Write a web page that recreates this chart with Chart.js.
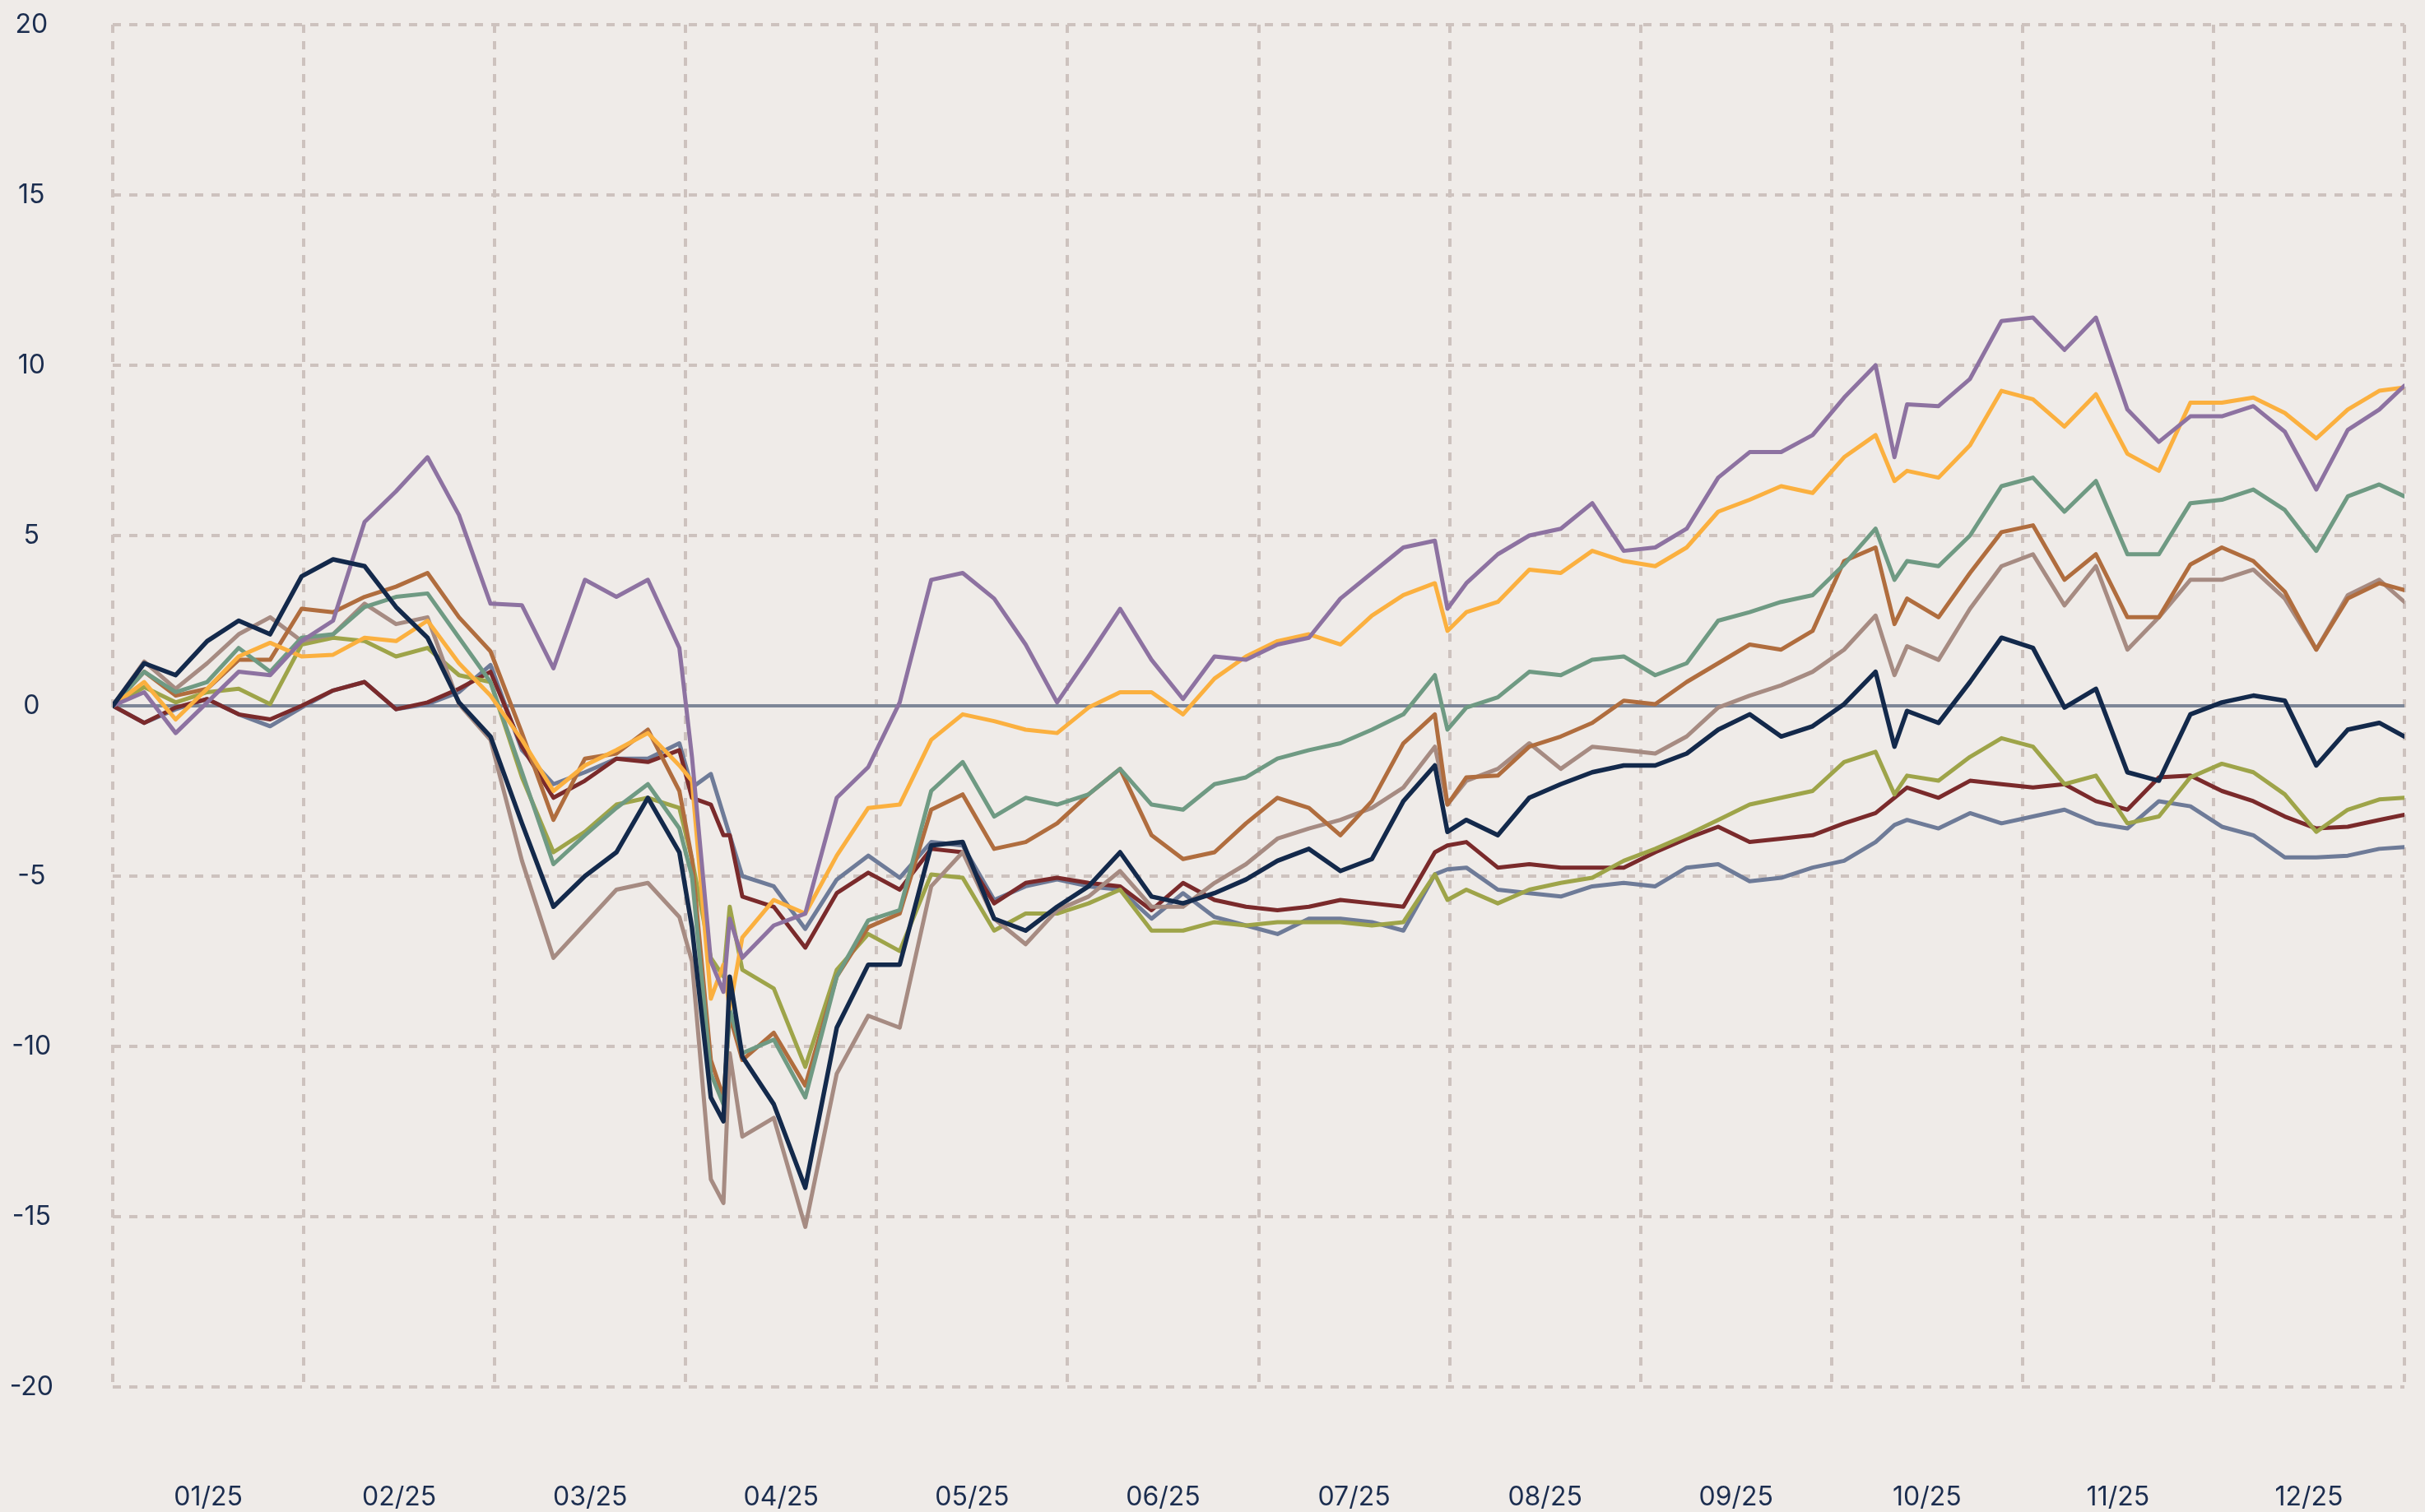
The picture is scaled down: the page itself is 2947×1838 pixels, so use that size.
<!DOCTYPE html>
<html>
<head>
<meta charset="utf-8">
<script src="https://cdn.jsdelivr.net/npm/chart.js@4.4.1/dist/chart.umd.min.js"></script>
<style>
  html, body { margin: 0; padding: 0; background: #efebe8; }
  #wrap { width: 2947px; height: 1838px; }
</style>
</head>
<body>
<div id="wrap"><canvas id="c" width="2947" height="1838"></canvas></div>
<script>
// ---- data (day index in 2025) ----
const days = [0,5,10,15,20,25,30,35,40,45,50,55,60,65,70,75,80,85,90,92,95,97,98,100,105,110,115,120,125,130,135,140,145,150,155,160,165,170,175,180,185,190,195,200,205,210,212,215,220,225,230,235,240,245,250,255,260,265,270,275,280,283,285,290,295,300,305,310,315,320,325,330,335,340,345,350,355,360,364];
const monthLabels = ['01/25','02/25','03/25','04/25','05/25','06/25','07/25','08/25','09/25','10/25','11/25','12/25'];

const navy   = [0,1.25,0.9,1.9,2.5,2.1,3.8,4.3,4.1,2.9,2.0,0.1,-0.9,-3.45,-5.9,-5.0,-4.3,-2.7,-4.3,-6.5,-11.5,-12.2,-7.95,-10.3,-11.7,-14.15,-9.45,-7.6,-7.6,-4.1,-4.0,-6.25,-6.6,-5.9,-5.3,-4.3,-5.6,-5.8,-5.5,-5.1,-4.55,-4.2,-4.85,-4.5,-2.8,-1.75,-3.7,-3.35,-3.8,-2.7,-2.3,-1.95,-1.75,-1.75,-1.4,-0.7,-0.25,-0.9,-0.6,0.05,1.0,-1.2,-0.15,-0.5,0.7,2.0,1.7,-0.05,0.5,-1.95,-2.2,-0.25,0.1,0.3,0.15,-1.75,-0.7,-0.5,-0.9];
const purple = [0,0.4,-0.8,0.1,1.0,0.9,1.9,2.5,5.4,6.3,7.3,5.6,3.0,2.95,1.1,3.7,3.2,3.7,1.7,-1.5,-7.5,-8.4,-6.25,-7.4,-6.45,-6.1,-2.7,-1.8,0.1,3.7,3.9,3.15,1.8,0.1,1.45,2.85,1.35,0.2,1.45,1.35,1.8,2.0,3.15,3.9,4.65,4.85,2.85,3.6,4.45,5.0,5.2,5.95,4.55,4.65,5.2,6.7,7.45,7.45,7.95,9.05,10.0,7.3,8.85,8.8,9.6,11.3,11.4,10.45,11.4,8.7,7.75,8.5,8.5,8.8,8.05,6.35,8.1,8.7,9.4];
const orange = [0,0.7,-0.4,0.5,1.45,1.85,1.45,1.5,2.0,1.9,2.5,1.25,0.3,-1.0,-2.5,-1.75,-1.3,-0.8,-1.75,-2.2,-8.6,-7.6,-8.9,-6.8,-5.7,-6.1,-4.4,-3.0,-2.9,-1.0,-0.25,-0.45,-0.7,-0.8,-0.05,0.4,0.4,-0.25,0.8,1.45,1.9,2.1,1.8,2.65,3.25,3.6,2.2,2.75,3.05,4.0,3.9,4.55,4.25,4.1,4.65,5.7,6.05,6.45,6.25,7.3,7.95,6.6,6.9,6.7,7.65,9.25,9.0,8.2,9.15,7.4,6.9,8.9,8.9,9.05,8.6,7.85,8.7,9.25,9.35];
const green  = [0,1.0,0.4,0.7,1.7,1.0,2.0,2.1,2.9,3.2,3.3,2.0,0.7,-1.95,-4.65,-3.8,-3.0,-2.3,-3.6,-5.0,-10.8,-11.7,-8.9,-10.2,-9.8,-11.5,-7.95,-6.3,-6.0,-2.5,-1.65,-3.25,-2.7,-2.9,-2.6,-1.85,-2.9,-3.05,-2.3,-2.1,-1.55,-1.3,-1.1,-0.7,-0.25,0.9,-0.7,-0.05,0.25,1.0,0.9,1.35,1.45,0.9,1.25,2.5,2.75,3.05,3.25,4.15,5.2,3.7,4.25,4.1,5.0,6.45,6.7,5.7,6.6,4.45,4.45,5.95,6.05,6.35,5.75,4.55,6.15,6.5,6.15];
const copper = [0,1.0,0.3,0.5,1.35,1.35,2.85,2.75,3.2,3.5,3.9,2.6,1.6,-0.8,-3.35,-1.55,-1.4,-0.7,-2.5,-4.5,-10.4,-11.5,-9.1,-10.4,-9.6,-11.15,-7.95,-6.5,-6.1,-3.05,-2.6,-4.2,-4.0,-3.45,-2.6,-1.85,-3.8,-4.5,-4.3,-3.45,-2.7,-3.0,-3.8,-2.8,-1.1,-0.25,-2.9,-2.1,-2.05,-1.2,-0.9,-0.5,0.15,0.05,0.7,1.25,1.8,1.65,2.2,4.25,4.65,2.4,3.15,2.6,3.9,5.1,5.3,3.7,4.45,2.6,2.6,4.15,4.65,4.25,3.35,1.65,3.15,3.6,3.4];
const tan    = [0,1.3,0.5,1.25,2.1,2.6,1.9,2.1,3.0,2.4,2.6,0.05,-1.0,-4.55,-7.4,-6.4,-5.4,-5.2,-6.2,-7.5,-13.9,-14.6,-10.2,-12.65,-12.1,-15.3,-10.8,-9.1,-9.45,-5.3,-4.3,-6.25,-7.0,-6.0,-5.6,-4.85,-5.9,-5.9,-5.2,-4.65,-3.9,-3.6,-3.35,-3.0,-2.4,-1.2,-2.9,-2.2,-1.85,-1.1,-1.85,-1.2,-1.3,-1.4,-0.9,-0.05,0.3,0.6,1.0,1.65,2.65,0.9,1.75,1.35,2.85,4.1,4.45,2.95,4.1,1.65,2.6,3.7,3.7,4.0,3.15,1.65,3.25,3.7,3.05];
const olive  = [0,0.55,0.1,0.4,0.5,0.05,1.8,2.0,1.9,1.45,1.7,0.9,0.7,-2.1,-4.3,-3.7,-2.9,-2.7,-3.0,-4.5,-7.4,-7.95,-5.9,-7.75,-8.3,-10.6,-7.75,-6.7,-7.2,-4.95,-5.05,-6.6,-6.1,-6.1,-5.8,-5.4,-6.6,-6.6,-6.35,-6.45,-6.35,-6.35,-6.35,-6.45,-6.35,-4.95,-5.7,-5.4,-5.8,-5.4,-5.2,-5.05,-4.55,-4.2,-3.8,-3.35,-2.9,-2.7,-2.5,-1.65,-1.35,-2.6,-2.05,-2.2,-1.5,-0.95,-1.2,-2.3,-2.05,-3.45,-3.25,-2.1,-1.7,-1.95,-2.6,-3.7,-3.05,-2.75,-2.7];
const maroon = [0,-0.5,-0.05,0.2,-0.25,-0.4,0.0,0.45,0.7,-0.1,0.1,0.5,1.0,-1.2,-2.7,-2.2,-1.55,-1.65,-1.3,-2.7,-2.9,-3.8,-3.8,-5.6,-5.9,-7.1,-5.5,-4.9,-5.4,-4.2,-4.3,-5.8,-5.2,-5.05,-5.2,-5.3,-6.0,-5.2,-5.7,-5.9,-6.0,-5.9,-5.7,-5.8,-5.9,-4.3,-4.1,-4.0,-4.75,-4.65,-4.75,-4.75,-4.75,-4.3,-3.9,-3.55,-4.0,-3.9,-3.8,-3.45,-3.15,-2.7,-2.4,-2.7,-2.2,-2.3,-2.4,-2.3,-2.8,-3.05,-2.1,-2.05,-2.5,-2.8,-3.25,-3.6,-3.55,-3.35,-3.2];
const slate  = [0,-0.5,-0.1,0.2,-0.25,-0.6,-0.05,0.45,0.7,-0.1,0.05,0.4,1.2,-1.3,-2.3,-1.95,-1.55,-1.55,-1.1,-2.4,-2.0,-3.2,-3.8,-5.0,-5.3,-6.55,-5.1,-4.4,-5.05,-4.0,-4.1,-5.7,-5.3,-5.1,-5.3,-5.4,-6.25,-5.5,-6.2,-6.45,-6.7,-6.25,-6.25,-6.35,-6.6,-4.95,-4.8,-4.75,-5.4,-5.5,-5.6,-5.3,-5.2,-5.3,-4.75,-4.65,-5.15,-5.05,-4.75,-4.55,-4.0,-3.5,-3.35,-3.6,-3.15,-3.45,-3.25,-3.05,-3.45,-3.6,-2.8,-2.95,-3.55,-3.8,-4.45,-4.45,-4.4,-4.2,-4.15];

const seriesList = [
  { name: 'navy',   values: navy,   color: '#13294b', width: 5.5 },
  { name: 'purple', values: purple, color: '#8d72a1', width: 5 },
  { name: 'orange', values: orange, color: '#fbb03f', width: 5 },
  { name: 'green',  values: green,  color: '#6f9a83', width: 5 },
  { name: 'copper', values: copper, color: '#b06d3e', width: 5 },
  { name: 'tan',    values: tan,    color: '#a68b82', width: 5 },
  { name: 'olive',  values: olive,  color: '#9ea449', width: 5 },
  { name: 'maroon', values: maroon, color: '#7a2a2b', width: 5 },
  { name: 'slate',  values: slate,  color: '#6e7b98', width: 5 }
];

const LABEL_COLOR = '#1b2d4f';
const GRID_COLOR = '#cdc2be';
const TICK_FONT = { family: 'Inter, "Noto Sans", sans-serif', size: 32, weight: '400' };
const dayMax = days[days.length - 1];

const bgPlugin = {
  id: 'bg',
  beforeDraw(chart) {
    const c = chart.ctx;
    c.save();
    c.fillStyle = '#efebe8';
    c.fillRect(0, 0, chart.width, chart.height);
    c.restore();
  }
};
const zeroLine = {
  id: 'zeroLine',
  beforeDatasetsDraw(chart) {
    const { ctx, chartArea, scales } = chart;
    const y = scales.y.getPixelForValue(0);
    ctx.save();
    ctx.strokeStyle = '#7d8697';
    ctx.lineWidth = 4;
    ctx.beginPath();
    ctx.moveTo(chartArea.left, y);
    ctx.lineTo(chartArea.right, y);
    ctx.stroke();
    ctx.restore();
  }
};

new Chart(document.getElementById('c').getContext('2d'), {
  type: 'line',
  data: {
    datasets: seriesList.map(s => ({
      label: s.name,
      data: days.map((d, i) => ({ x: d, y: s.values[i] })),
      borderColor: s.color,
      borderWidth: s.width,
      pointRadius: 0,
      tension: 0,
      fill: false,
      borderJoinStyle: 'round',
      borderCapStyle: 'round'
    }))
  },
  options: {
    responsive: false,
    animation: false,
    events: [],
    layout: { padding: { top: 30, right: 25, left: 0, bottom: 0 } },
    plugins: { legend: { display: false }, tooltip: { enabled: false } },
    scales: {
      x: {
        type: 'linear', position: 'bottom', min: 0, max: dayMax,
        afterBuildTicks(scale) {
          scale.ticks = monthLabels.concat(['']).map((_, i) => ({ value: i * dayMax / 12 }));
        },
        ticks: { display: false },
        grid: { color: GRID_COLOR, lineWidth: 4, drawTicks: false },
        border: { display: false, dash: [10, 10] },
        afterFit(scale) { scale.height = 0; scale.paddingLeft = 0; scale.paddingRight = 0; }
      },
      x2: {
        type: 'linear', position: 'bottom', min: 0, max: dayMax,
        afterBuildTicks(scale) {
          scale.ticks = monthLabels.map((_, i) => ({ value: (i + 0.5) * dayMax / 12 }));
        },
        ticks: {
          autoSkip: false, maxRotation: 0, padding: 115,
          color: LABEL_COLOR, font: TICK_FONT,
          callback: (v, i) => monthLabels[i]
        },
        grid: { display: false, drawTicks: false },
        border: { display: false },
        afterFit(scale) { scale.height = 152; scale.paddingLeft = 0; scale.paddingRight = 0; }
      },
      y: {
        min: -20, max: 20,
        ticks: { stepSize: 5, color: LABEL_COLOR, font: TICK_FONT, crossAlign: 'center', padding: 72 },
        grid: { color: GRID_COLOR, lineWidth: 4, drawTicks: false },
        border: { display: false, dash: [10, 10] },
        afterFit(scale) { scale.width = 137; scale.paddingTop = 0; scale.paddingBottom = 0; }
      }
    }
  },
  plugins: [bgPlugin, zeroLine]
});
</script>
</body>
</html>
